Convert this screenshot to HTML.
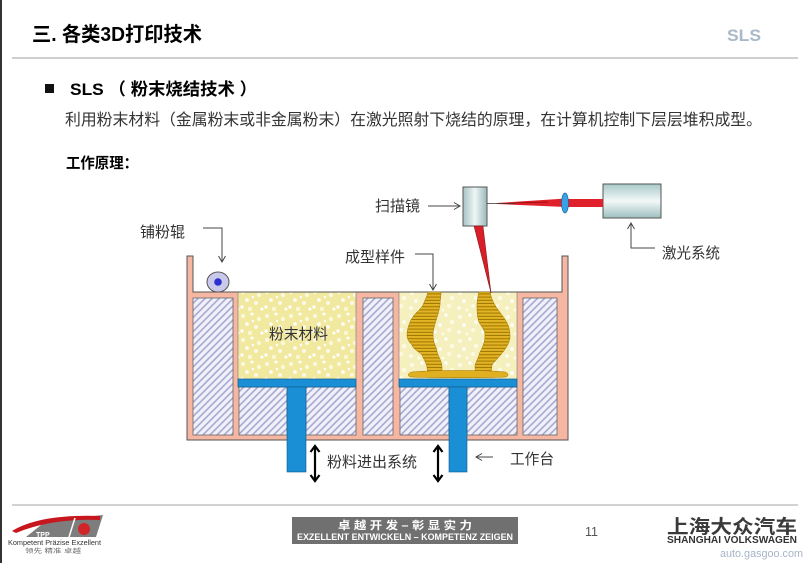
<!DOCTYPE html>
<html><head><meta charset="utf-8"><style>
html,body{margin:0;padding:0;background:#fff;}
svg{display:block;}
text{font-family:"Liberation Sans","Noto Sans CJK SC",sans-serif;}
</style></head><body>
<svg width="808" height="563" viewBox="0 0 808 563" xmlns="http://www.w3.org/2000/svg">
<defs>
<pattern id="hatch" width="5" height="5" patternUnits="userSpaceOnUse" patternTransform="rotate(45)">
<rect width="5" height="5" fill="#f1f1fa"/><line x1="1" y1="0" x2="1" y2="5" stroke="#a2a3cf" stroke-width="1.5"/>
</pattern>
<pattern id="powder" width="24" height="24" patternUnits="userSpaceOnUse">
<rect width="24" height="24" fill="#f2e9a0"/>
<circle cx="3" cy="4" r="2" fill="#fbf8e0"/><circle cx="12" cy="2" r="1.5" fill="#fff"/>
<circle cx="19" cy="7" r="2.2" fill="#fbf8dc"/><circle cx="7" cy="12" r="1.8" fill="#fff"/>
<circle cx="16" cy="15" r="2" fill="#fcf9e4"/><circle cx="2" cy="19" r="1.6" fill="#fff"/>
<circle cx="10" cy="21" r="2.1" fill="#faf6d8"/><circle cx="22" cy="21" r="1.5" fill="#fff"/>
<circle cx="13" cy="9" r="1.2" fill="#fff"/>
</pattern>
<pattern id="powder2" width="24" height="24" patternUnits="userSpaceOnUse">
<rect width="24" height="24" fill="#f5f0bd"/>
<circle cx="4" cy="5" r="2" fill="#fdfbea"/><circle cx="14" cy="3" r="1.6" fill="#fff"/>
<circle cx="20" cy="10" r="2.2" fill="#fdfbe8"/><circle cx="8" cy="13" r="1.8" fill="#fff"/>
<circle cx="17" cy="18" r="2" fill="#fdfae6"/><circle cx="3" cy="20" r="1.6" fill="#fff"/>
<circle cx="11" cy="22" r="1.5" fill="#fdfbe8"/>
</pattern>
<pattern id="gold" width="4" height="3.2" patternUnits="userSpaceOnUse">
<rect width="4" height="3.2" fill="#e2b324"/><rect y="2.2" width="4" height="1" fill="#9d7600"/>
</pattern>
<linearGradient id="scan" x1="0" y1="0" x2="1" y2="0">
<stop offset="0" stop-color="#a9c3c3"/><stop offset="0.5" stop-color="#eef5f5"/><stop offset="1" stop-color="#9cb9b9"/>
</linearGradient>
<linearGradient id="las" x1="0" y1="0" x2="0" y2="1">
<stop offset="0" stop-color="#aac9c9"/><stop offset="0.5" stop-color="#f2f8f8"/><stop offset="1" stop-color="#9fbfbf"/>
</linearGradient>
</defs>

<!-- left border -->
<rect x="0" y="0" width="2" height="563" fill="#333"/>

<!-- header -->
<text x="32" y="41" font-size="20" font-weight="bold" fill="#000" textLength="170" lengthAdjust="spacingAndGlyphs">三. 各类3D打印技术</text>
<text x="727" y="41" font-size="17" font-weight="bold" fill="#a9b9c9" textLength="34" lengthAdjust="spacingAndGlyphs">SLS</text>
<rect x="12" y="57" width="786" height="2" fill="#cfcfcf"/>

<rect x="45" y="84" width="9" height="9" fill="#111"/>
<text x="70" y="95" font-size="17" font-weight="bold" fill="#000" textLength="187" lengthAdjust="spacingAndGlyphs">SLS （ 粉末烧结技术 ）</text>
<text x="65" y="125" font-size="15.8" fill="#333" textLength="697" lengthAdjust="spacingAndGlyphs">利用粉末材料（金属粉末或非金属粉末）在激光照射下烧结的原理，在计算机控制下层层堆积成型。</text>
<text x="66" y="168" font-size="15" font-weight="bold" fill="#000" textLength="72" lengthAdjust="spacingAndGlyphs">工作原理：</text>

<!-- machine body -->
<path d="M187,256 H193 V292 H562 V256 H568 V440 H187 Z" fill="#f5b6a2" stroke="#555" stroke-width="1"/>
<!-- hatched columns -->
<rect x="193" y="298" width="40" height="137" fill="url(#hatch)" stroke="#666" stroke-width="0.8"/>
<rect x="363" y="298" width="30" height="137" fill="url(#hatch)" stroke="#666" stroke-width="0.8"/>
<rect x="523" y="298" width="34" height="137" fill="url(#hatch)" stroke="#666" stroke-width="0.8"/>
<rect x="239" y="387" width="48" height="48" fill="url(#hatch)" stroke="#666" stroke-width="0.8"/>
<rect x="306" y="387" width="50" height="48" fill="url(#hatch)" stroke="#666" stroke-width="0.8"/>
<rect x="400" y="387" width="49" height="48" fill="url(#hatch)" stroke="#666" stroke-width="0.8"/>
<rect x="467" y="387" width="50" height="48" fill="url(#hatch)" stroke="#666" stroke-width="0.8"/>
<!-- powder -->
<rect x="238" y="292" width="118" height="87" fill="url(#powder)"/>
<rect x="399" y="292" width="118" height="87" fill="url(#powder2)"/>
<line x1="193" y1="292" x2="562" y2="292" stroke="#555" stroke-width="1"/>
<line x1="238" y1="292" x2="238" y2="379" stroke="#777" stroke-width="0.6"/>
<line x1="356" y1="292" x2="356" y2="379" stroke="#777" stroke-width="0.6"/>
<line x1="399" y1="292" x2="399" y2="379" stroke="#777" stroke-width="0.6"/>
<line x1="517" y1="292" x2="517" y2="379" stroke="#777" stroke-width="0.6"/>
<!-- plates and stems -->
<rect x="238" y="379" width="118" height="8" fill="#1b8fd6" stroke="#0c5a8e" stroke-width="0.7"/>
<rect x="399" y="379" width="118" height="8" fill="#1b8fd6" stroke="#0c5a8e" stroke-width="0.7"/>
<rect x="287" y="387" width="19" height="85" fill="#1b8fd6" stroke="#0c5a8e" stroke-width="0.6"/>
<rect x="449" y="387" width="18" height="85" fill="#1b8fd6" stroke="#0c5a8e" stroke-width="0.6"/>

<!-- sculptured parts -->
<path d="M428,292 L441,292 C441,298 440,302 440,305 C438,318 433,326 433,335 C433,343 437,348 437,352 C439,358 442,362 442,367 L442,374 L428,374 C427,370 427,368 427,367 C426,362 423,358 422,355 C418,351 413,349 412,345 C408,341 407,338 407,335 C407,328 410,322 412,318 C416,312 421,309 423,305 C425,300 427,296 428,292 Z" fill="url(#gold)" stroke="#9d7600" stroke-width="0.5"/>
<path d="M479,292 L490,292 C491,297 493,302 495,305 C499,312 505,318 508,325 C510,330 510,334 510,338 C509,344 506,348 503,352 C499,357 495,361 492,365 L491,374 L475,374 C475,370 475,367 475,365 C477,360 479,356 480,352 C483,347 485,341 485,335 C485,330 481,326 479,322 C477,317 477,310 477,305 C477,300 478,296 479,292 Z" fill="url(#gold)" stroke="#9d7600" stroke-width="0.5"/>
<path d="M412,372 C430,370 490,370 505,372 C509,373 509,377 505,377 C490,378 430,378 412,377 C407,377 407,373 412,372 Z" fill="#e0b020" stroke="#9d7600" stroke-width="0.5"/>

<!-- roller -->
<ellipse cx="218" cy="282" rx="11" ry="10" fill="#c9c9ea" stroke="#555" stroke-width="1"/>
<circle cx="218" cy="282" r="3.8" fill="#2f2fd0"/>

<!-- scanner & laser -->
<rect x="463" y="187" width="24" height="39" fill="url(#scan)" stroke="#555" stroke-width="1"/>
<rect x="603" y="184" width="58" height="34" fill="url(#las)" stroke="#555" stroke-width="1"/>
<rect x="566" y="199" width="37" height="8" fill="#e0202a"/>
<polygon points="497,203 566,198.5 566,207 497,204" fill="#e0202a"/>
<line x1="487" y1="203.5" x2="515" y2="203.5" stroke="#333" stroke-width="0.8"/>
<line x1="515" y1="203" x2="548" y2="202" stroke="#8a0c10" stroke-width="0.8"/>
<ellipse cx="565" cy="203" rx="3.5" ry="10" fill="#3aa2e2" stroke="#1765a6" stroke-width="0.7"/>
<polygon points="474,226 483,226 491,293" fill="#d81e28" stroke="#7a1010" stroke-width="0.5"/>

<!-- labels & arrows -->
<g fill="#333" font-size="15">
<text x="140" y="237" textLength="45" lengthAdjust="spacingAndGlyphs">铺粉辊</text>
<text x="375" y="211" textLength="45" lengthAdjust="spacingAndGlyphs">扫描镜</text>
<text x="345" y="262" textLength="60" lengthAdjust="spacingAndGlyphs">成型样件</text>
<text x="662" y="258" textLength="58" lengthAdjust="spacingAndGlyphs">激光系统</text>
<text x="269" y="339" textLength="59" lengthAdjust="spacingAndGlyphs">粉末材料</text>
<text x="327" y="467" textLength="90" lengthAdjust="spacingAndGlyphs">粉料进出系统</text>
<text x="510" y="464" textLength="44" lengthAdjust="spacingAndGlyphs">工作台</text>
</g>
<g fill="none" stroke="#444" stroke-width="1">
<polyline points="203,228 222,228 222,262"/>
<polyline points="218.5,256 222,262 225.5,256"/>
<line x1="428" y1="206" x2="460" y2="206"/>
<polyline points="454,202.5 460,206 454,209.5"/>
<polyline points="415,254 433,254 433,290"/>
<polyline points="429.5,284 433,290 436.5,284"/>
<polyline points="655,248 631,248 631,223"/>
<polyline points="627.5,229 631,223 634.5,229"/>
<line x1="493" y1="457" x2="476" y2="457"/>
<polyline points="482,453.5 476,457 482,460.5"/>
</g>
<g fill="none" stroke="#000" stroke-width="2.2">
<line x1="315" y1="447" x2="315" y2="480"/>
<polyline points="310.5,452 315,446 319.5,452"/>
<polyline points="310.5,475 315,481 319.5,475"/>
<line x1="438" y1="447" x2="438" y2="480"/>
<polyline points="433.5,452 438,446 442.5,452"/>
<polyline points="433.5,475 438,481 442.5,475"/>
</g>

<!-- footer -->
<rect x="12" y="504" width="786" height="2" fill="#d2d2d2"/>
<!-- left logo -->
<polygon points="26,537 46,521 103,515 96,537" fill="#7d7d7d"/>
<path d="M12,531 Q40,514 100,516 L100,520 Q52,518 16,533 Z" fill="#c8161e"/>
<line x1="69" y1="537" x2="75" y2="518" stroke="#fff" stroke-width="1.5"/>
<circle cx="84" cy="529" r="6" fill="#d0262a"/>
<text x="36" y="537" font-size="7" font-weight="bold" fill="#fff">TPP</text>
<text x="8" y="545" font-size="7.4" fill="#333" textLength="93" lengthAdjust="spacingAndGlyphs">Kompetent  Präzise  Exzellent</text>
<text x="25" y="553" font-size="6" fill="#666" textLength="56" lengthAdjust="spacingAndGlyphs">领先  精准  卓越</text>
<!-- center box -->
<rect x="292" y="517" width="226" height="27" fill="#707070"/>
<text x="338" y="529" font-size="11" font-weight="bold" fill="#fff" textLength="134" lengthAdjust="spacingAndGlyphs">卓 越 开 发 – 彰 显 实 力</text>
<text x="297" y="540" font-size="9.5" font-weight="bold" fill="#fff" textLength="216" lengthAdjust="spacingAndGlyphs">EXZELLENT ENTWICKELN – KOMPETENZ ZEIGEN</text>
<text x="585" y="536" font-size="12.5" fill="#555">11</text>
<!-- right logo -->
<text x="667" y="533" font-size="19" font-weight="bold" fill="#3a3a3a" textLength="130" lengthAdjust="spacingAndGlyphs">上海大众汽车</text>
<text x="667" y="543" font-size="10" font-weight="bold" fill="#333" textLength="130" lengthAdjust="spacingAndGlyphs">SHANGHAI VOLKSWAGEN</text>
<text x="720" y="557" font-size="11" fill="#a6b5c6" textLength="83" lengthAdjust="spacingAndGlyphs">auto.gasgoo.com</text>
</svg>
</body></html>
